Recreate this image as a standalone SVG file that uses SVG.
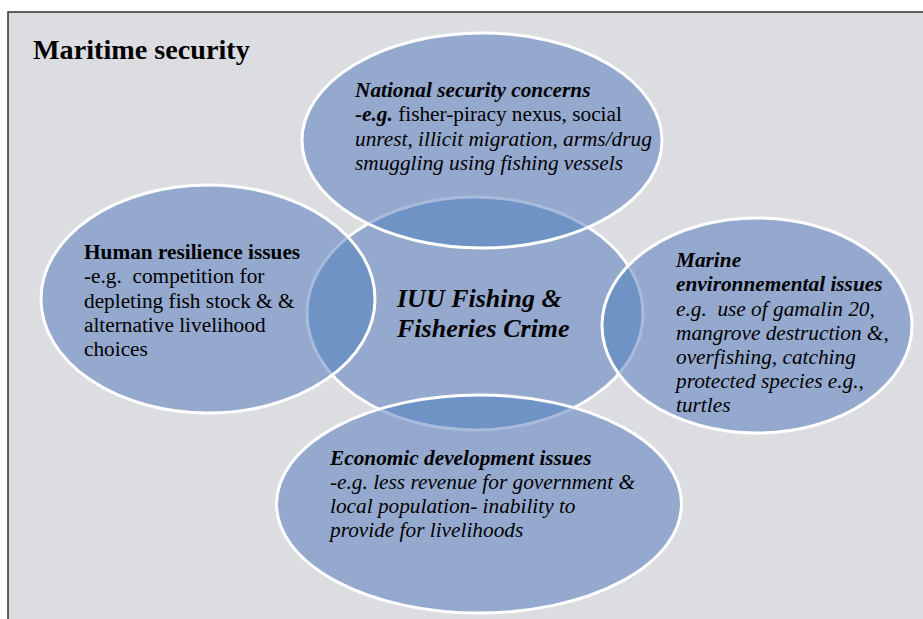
<svg xmlns="http://www.w3.org/2000/svg" width="923" height="619" viewBox="0 0 923 619">
<style>
  .t { font-family: "Liberation Serif", "Times New Roman", Tinos, serif; font-size: 21.3px; fill: #000; }
  .b { font-weight: bold; }
  .i { font-style: italic; }
  .fill { fill: #95a9cf; stroke: none; }
  .dark { fill: #6f93c4; stroke: none; }
  .faint { fill: none; stroke: #a8bbdc; stroke-width: 3; }
  .edge { fill: none; stroke: #ffffff; stroke-width: 3; }
</style>
<defs>
  <clipPath id="cC"><ellipse cx="475" cy="313.5" rx="168" ry="116.5"/></clipPath>
  <clipPath id="cT"><ellipse cx="482" cy="140.5" rx="180" ry="107.5"/></clipPath>
  <clipPath id="cL"><ellipse cx="208" cy="299" rx="167" ry="114"/></clipPath>
  <clipPath id="cR"><ellipse cx="757" cy="325.5" rx="155" ry="107.5"/></clipPath>
  <clipPath id="cB"><ellipse cx="479" cy="504" rx="202.5" ry="109"/></clipPath>
</defs>
<rect x="8" y="12" width="940" height="640" fill="#dcdde0" stroke="#333333" stroke-width="1.5"/>
<g font-family="Liberation Serif, Times New Roman, serif">
<text class="t b" x="33" y="59" style="font-size:28.2px">Maritime security</text>

<g id="center">
  <ellipse class="fill" cx="475" cy="313.5" rx="168" ry="116.5"/>
  <ellipse class="edge" cx="475" cy="313.5" rx="168" ry="116.5"/>
</g>

<g id="national-security">
  <ellipse class="fill" cx="482" cy="140.5" rx="180" ry="107.5"/>
  <ellipse class="dark" cx="482" cy="140.5" rx="180" ry="107.5" clip-path="url(#cC)"/>
  <ellipse class="faint" cx="475" cy="313.5" rx="168" ry="116.5" clip-path="url(#cT)"/>
  <ellipse class="edge" cx="482" cy="140.5" rx="180" ry="107.5"/>
  <text class="t b i" x="355" y="97">National security concerns</text>
  <text class="t" x="355" y="121"><tspan class="b i">-e.g.</tspan> fisher-piracy nexus, social</text>
  <text class="t i" x="355" y="146">unrest, illicit migration, arms/drug</text>
  <text class="t i" x="355" y="170">smuggling using fishing vessels</text>
</g>

<g id="human-resilience">
  <ellipse class="fill" cx="208" cy="299" rx="167" ry="114"/>
  <ellipse class="dark" cx="208" cy="299" rx="167" ry="114" clip-path="url(#cC)"/>
  <ellipse class="faint" cx="475" cy="313.5" rx="168" ry="116.5" clip-path="url(#cL)"/>
  <ellipse class="edge" cx="208" cy="299" rx="167" ry="114"/>
  <text class="t b" x="84" y="259">Human resilience issues</text>
  <text class="t" x="84" y="283" xml:space="preserve">-e.g.  competition for</text>
  <text class="t" x="84" y="308">depleting fish stock &amp; &amp;</text>
  <text class="t" x="84" y="332">alternative livelihood</text>
  <text class="t" x="84" y="356">choices</text>
</g>

<g id="marine-environmental">
  <ellipse class="fill" cx="757" cy="325.5" rx="155" ry="107.5"/>
  <ellipse class="dark" cx="757" cy="325.5" rx="155" ry="107.5" clip-path="url(#cC)"/>
  <ellipse class="faint" cx="475" cy="313.5" rx="168" ry="116.5" clip-path="url(#cR)"/>
  <ellipse class="edge" cx="757" cy="325.5" rx="155" ry="107.5"/>
  <text class="t b i" x="676" y="267">Marine</text>
  <text class="t b i" x="676" y="291">environnemental issues</text>
  <text class="t i" x="676" y="316" xml:space="preserve">e.g.  use of gamalin 20,</text>
  <text class="t i" x="676" y="340">mangrove destruction &amp;,</text>
  <text class="t i" x="676" y="364">overfishing, catching</text>
  <text class="t i" x="676" y="388">protected species e.g.,</text>
  <text class="t i" x="676" y="412">turtles</text>
</g>

<g id="economic-development">
  <ellipse class="fill" cx="479" cy="504" rx="202.5" ry="109"/>
  <ellipse class="dark" cx="479" cy="504" rx="202.5" ry="109" clip-path="url(#cC)"/>
  <ellipse class="faint" cx="475" cy="313.5" rx="168" ry="116.5" clip-path="url(#cB)"/>
  <ellipse class="edge" cx="479" cy="504" rx="202.5" ry="109"/>
  <text class="t b i" x="330" y="465">Economic development issues</text>
  <text class="t i" x="330" y="489">-e.g. less revenue for government &amp;</text>
  <text class="t i" x="330" y="513">local population- inability to</text>
  <text class="t i" x="330" y="537">provide for livelihoods</text>
</g>

<g id="center-label">
  <text class="t b i" x="397" y="307" style="font-size:26px">IUU Fishing &amp;</text>
  <text class="t b i" x="397" y="337" style="font-size:26px">Fisheries Crime</text>
</g>
</g>
<g id="connectors"/>
</svg>
